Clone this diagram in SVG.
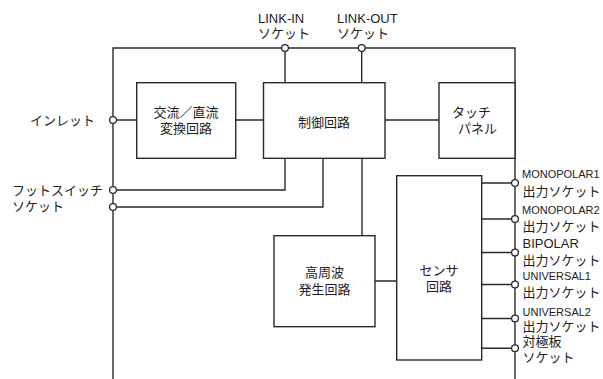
<svg xmlns="http://www.w3.org/2000/svg" width="603" height="379" viewBox="0 0 603 379">
<style>
.box{fill:#fff;stroke:#2a2a2a;stroke-width:1.4}
.ln{fill:none;stroke:#2a2a2a;stroke-width:1.4}
.pt{fill:#fff;stroke:#2a2a2a;stroke-width:1.3}
text{font-family:"Liberation Sans","Noto Sans CJK JP",sans-serif;font-size:13px;fill:#222}
.c{text-anchor:middle}
.s{font-size:11px}
</style>
<rect width="603" height="379" fill="#fff"/>
<g id="connectors">
<path class="ln" d="M113,379 V48 H515 V379"/>
<path class="ln" d="M113,120 H137 M235.5,120 H263.5 M385,120 H439"/>
<path class="ln" d="M285,48 V83 M361.7,48 V83"/>
<path class="ln" d="M113,190 H285 V158.3 M113,207 H323 V158.3"/>
<path class="ln" d="M362,158.3 V236 M375,281 H397"/>
<path class="ln" d="M481.5,183 H515 M481.5,219 H515 M481.5,252.5 H515 M481.5,284.5 H515 M481.5,318.5 H515 M481.5,348.3 H515"/>
</g>
<g id="acdc"><rect class="box" x="136.7" y="82.7" width="99" height="75.6"/><text class="c" x="186" y="117">交流／直流</text><text class="c" x="186" y="133">変換回路</text></g>
<g id="control"><rect class="box" x="263.5" y="82.7" width="121.5" height="75.6"/><text class="c" x="324" y="127">制御回路</text></g>
<g id="touch"><rect class="box" x="439" y="82.7" width="76" height="75.6"/><text x="452" y="117">タッチ</text><text x="458" y="133">パネル</text></g>
<g id="rf"><rect class="box" x="274" y="235.7" width="101" height="91"/><text class="c" x="324.5" y="277">高周波</text><text class="c" x="324.5" y="294">発生回路</text></g>
<g id="sensor"><rect class="box" x="396.7" y="175.7" width="85" height="184.3"/><text class="c" x="439" y="275">センサ</text><text class="c" x="439" y="291">回路</text></g>
<g id="inlet"><circle class="pt" cx="113" cy="120" r="3.4"/><text x="30" y="125">インレット</text></g>
<g id="footswitch"><circle class="pt" cx="113" cy="190" r="3.4"/><circle class="pt" cx="113" cy="207" r="3.4"/><text x="12" y="195">フットスイッチ</text><text x="12" y="211">ソケット</text></g>
<g id="linkin"><circle class="pt" cx="285" cy="48" r="3.4"/><text x="258" y="23">LINK-IN</text><text x="258" y="38">ソケット</text></g>
<g id="linkout"><circle class="pt" cx="361.7" cy="48" r="3.4"/><text x="337" y="23">LINK-OUT</text><text x="337" y="38">ソケット</text></g>
<g id="mono1"><circle class="pt" cx="515" cy="183" r="3.4"/><text class="s" x="522" y="178">MONOPOLAR1</text><text x="522.5" y="195.5">出力ソケット</text></g>
<g id="mono2"><circle class="pt" cx="515" cy="219" r="3.4"/><text class="s" x="522" y="214">MONOPOLAR2</text><text x="522.5" y="231">出力ソケット</text></g>
<g id="bipolar"><circle class="pt" cx="515" cy="252.5" r="3.4"/><text x="522.5" y="248">BIPOLAR</text><text x="522.5" y="265">出力ソケット</text></g>
<g id="univ1"><circle class="pt" cx="515" cy="284.5" r="3.4"/><text class="s" x="522.5" y="280">UNIVERSAL1</text><text x="522.5" y="297">出力ソケット</text></g>
<g id="univ2"><circle class="pt" cx="515" cy="318.5" r="3.4"/><text class="s" x="522.5" y="315.5">UNIVERSAL2</text><text x="522.5" y="331">出力ソケット</text></g>
<g id="plate"><circle class="pt" cx="515" cy="348.3" r="3.4"/><text x="522.5" y="346">対極板</text><text x="522.5" y="362">ソケット</text></g>
</svg>
